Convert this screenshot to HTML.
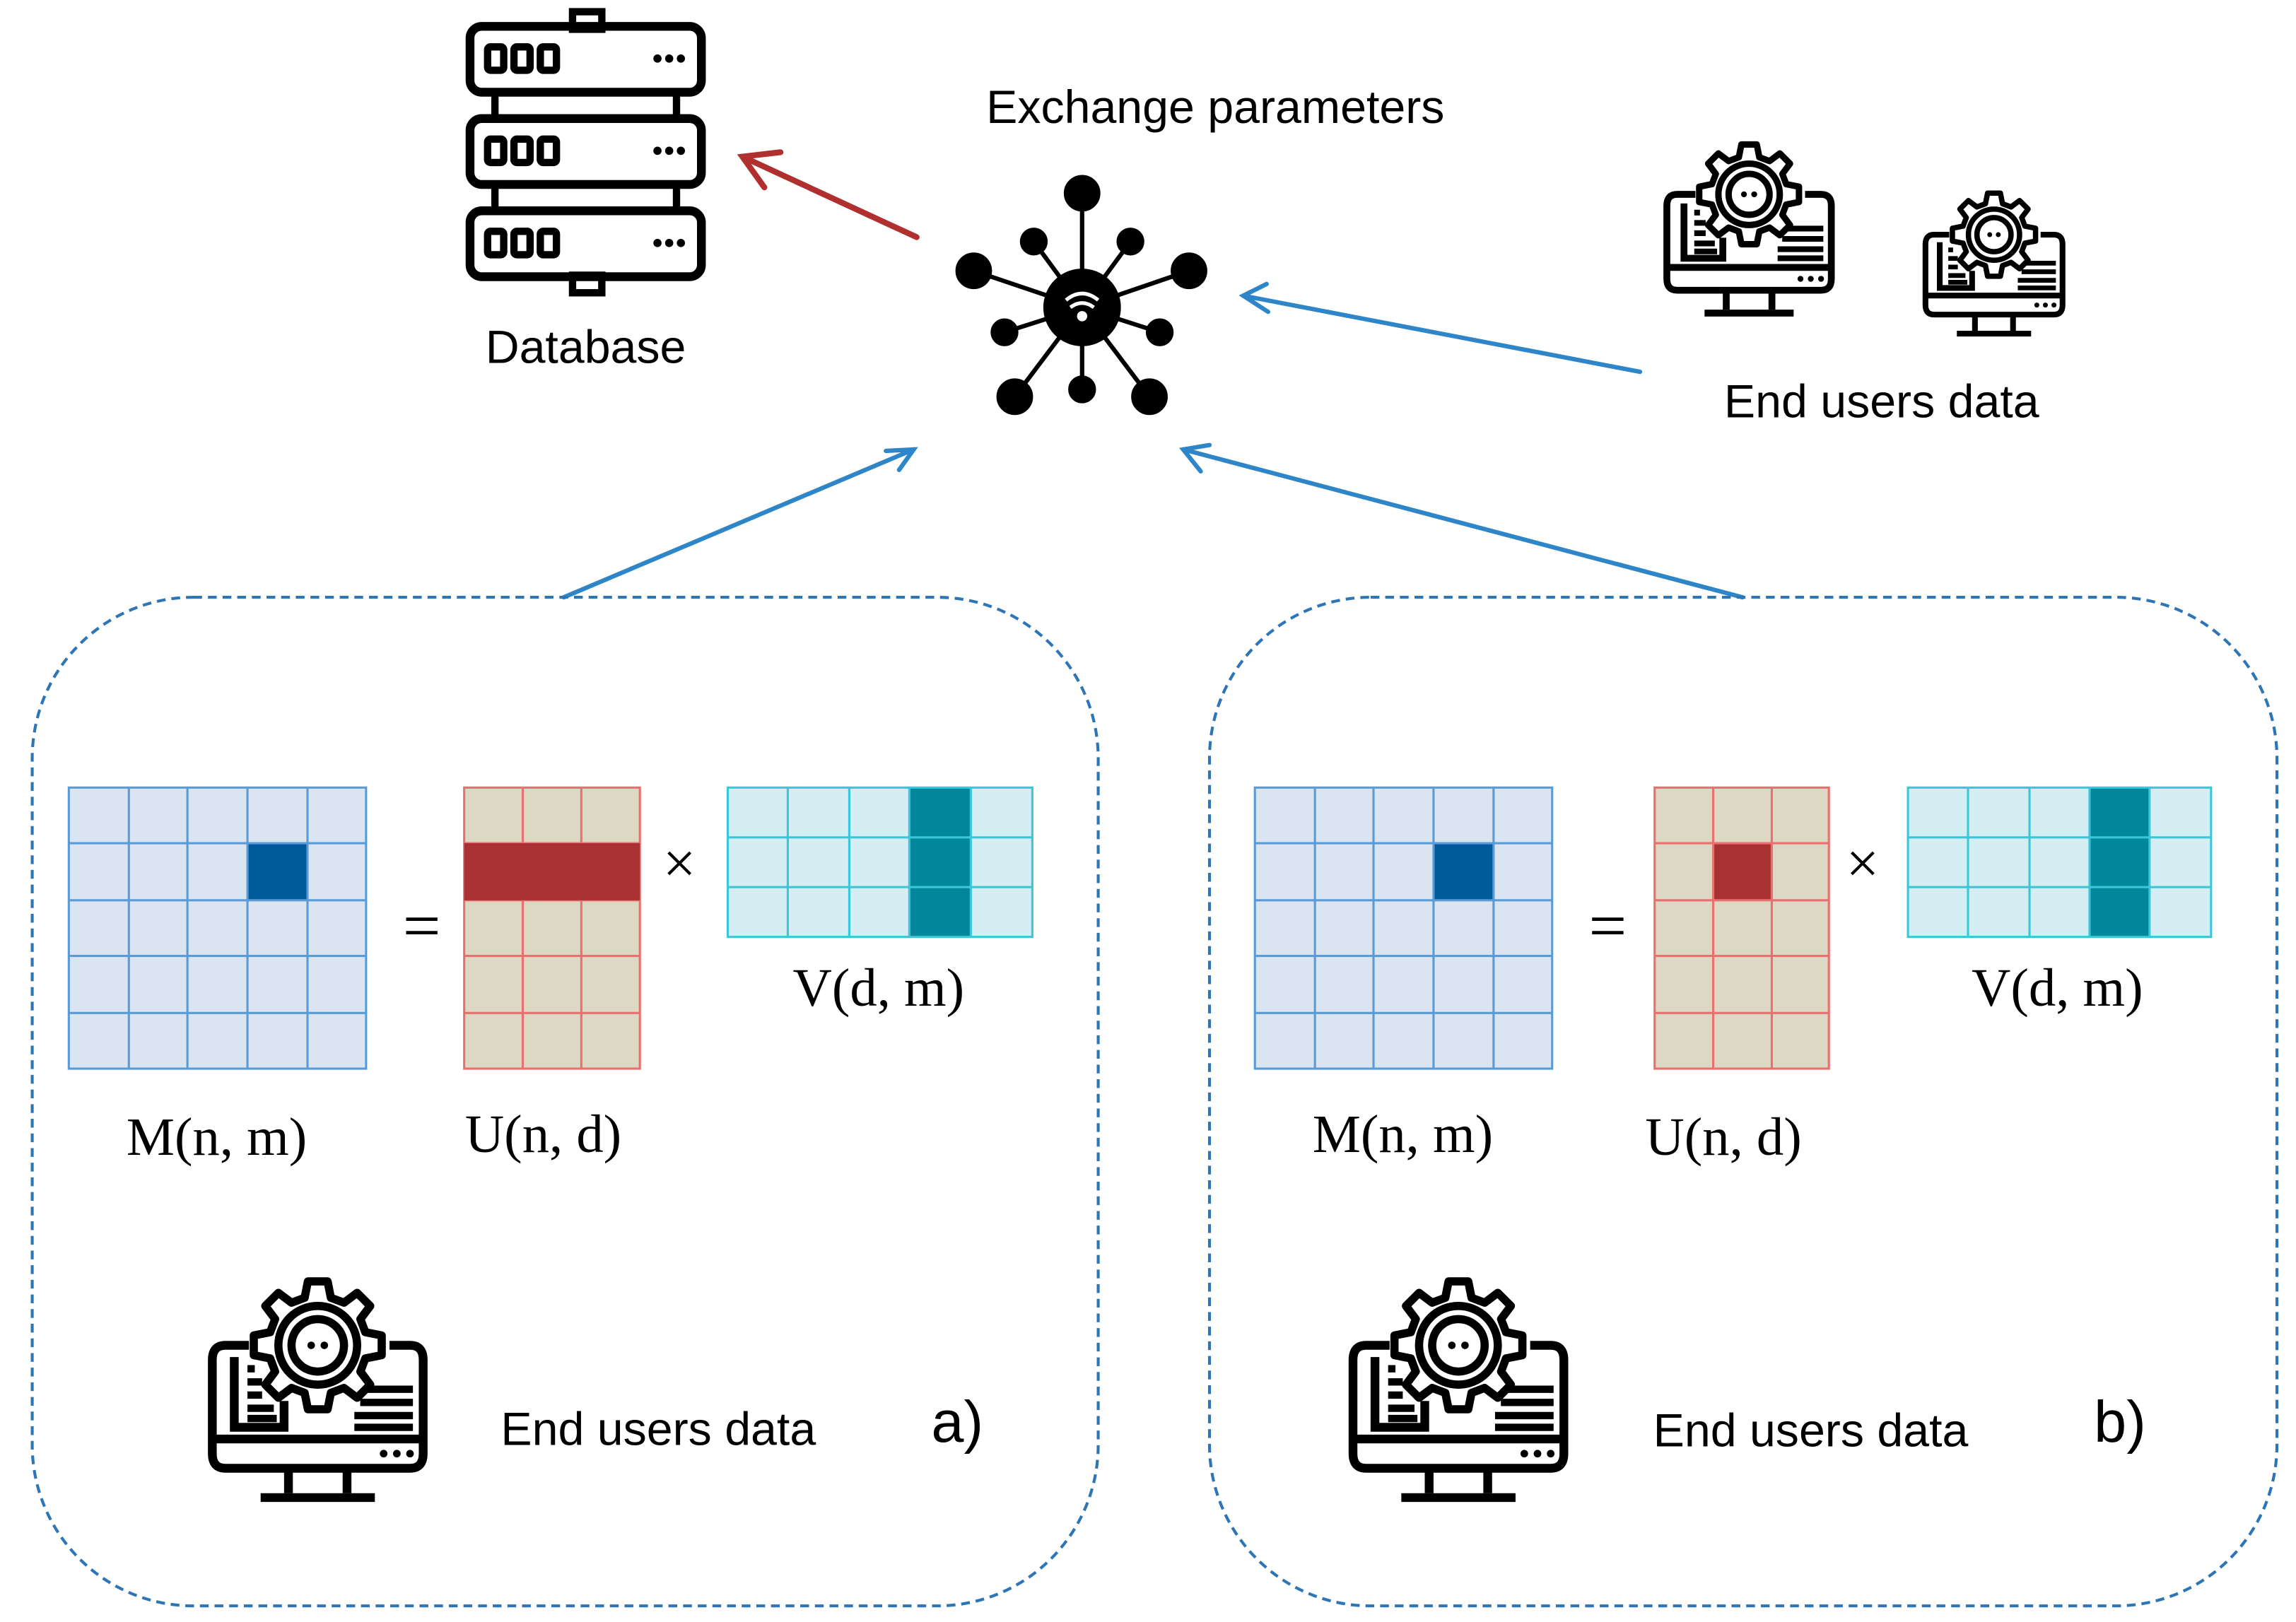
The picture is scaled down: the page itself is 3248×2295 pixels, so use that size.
<!DOCTYPE html>
<html><head><meta charset="utf-8"><style>
html,body{margin:0;padding:0;background:#fff}
svg{display:block}
.lab{font-family:"Liberation Sans",sans-serif;fill:#000}
.ser{font-family:"Liberation Serif",serif;fill:#000}
</style></head><body>
<svg width="3248" height="2295" viewBox="0 0 1568 1108" preserveAspectRatio="none" xmlns="http://www.w3.org/2000/svg">
<defs>
<g id="comp" fill="none" stroke="#000" stroke-width="6" stroke-linecap="butt">
 <path d="M28 42 H12 Q3 42 3 52 V116 Q3 126 12 126 H138 Q147 126 147 116 V52 Q147 42 138 42 H124"/>
 <line x1="3" y1="106" x2="147" y2="106"/>
 <path d="M55 126 V143 M95 126 V143"/>
 <line x1="36" y1="146" x2="114" y2="146" stroke-width="6"/>
 <path d="M18 50 V98 H52 V80"/>
 <path d="M27 58 h5 M27 67 h10 M27 76 h10 M27 85 h18 M27 92 h20" stroke-width="5"/>
 <path d="M108 72 h32 M104 81 h36 M100 90 h40 M100 98 h40" stroke-width="5"/>
 <circle cx="120" cy="116" r="2.6" fill="#000" stroke="none"/><circle cx="129" cy="116" r="2.6" fill="#000" stroke="none"/><circle cx="138" cy="116" r="2.6" fill="#000" stroke="none"/>
 <g transform="translate(75,42) scale(1.12) translate(-75,-42)">
 <path fill="#fff" stroke-width="5" stroke-linejoin="round" d="M69 3 L81 3 L83 13 L91 16 L99 10 L107 18 L101 26 L104 34 L114 36 L114 48 L104 50 L101 58 L107 66 L99 74 L91 68 L83 71 L81 81 L69 81 L67 71 L59 68 L51 74 L43 66 L49 58 L46 50 L36 48 L36 36 L46 34 L49 26 L43 18 L51 10 L59 16 L67 13 Z"/>
 <circle cx="75" cy="42" r="24" stroke-width="5"/>
 <circle cx="75" cy="42" r="16" stroke-width="5"/>
 <circle cx="71" cy="42" r="2.3" fill="#000" stroke="none"/><circle cx="79" cy="42" r="2.3" fill="#000" stroke="none"/>
 </g>
</g>
<g id="srv" fill="none" stroke="#000" stroke-width="6">
 <rect x="3" y="0" width="158" height="45" rx="8"/>
 <rect x="15" y="14" width="11" height="16" rx="2" stroke-width="5"/>
 <rect x="33" y="14" width="11" height="16" rx="2" stroke-width="5"/>
 <rect x="51" y="14" width="11" height="16" rx="2" stroke-width="5"/>
 <circle cx="131" cy="22" r="2.8" fill="#000" stroke="none"/><circle cx="139" cy="22" r="2.8" fill="#000" stroke="none"/><circle cx="147" cy="22" r="2.8" fill="#000" stroke="none"/>
</g>
</defs>

<!-- Database -->
<g transform="translate(318,0)">
 <rect x="73" y="8" width="20" height="12" fill="none" stroke="#000" stroke-width="5"/>
 <rect x="73" y="188" width="20" height="12" fill="none" stroke="#000" stroke-width="5"/>
 <path d="M20 62 V84 M144 62 V84 M20 125 V147 M144 125 V147" stroke="#000" stroke-width="5"/>
 <use href="#srv" transform="translate(0,18)"/>
 <use href="#srv" transform="translate(0,81)"/>
 <use href="#srv" transform="translate(0,144)"/>
</g>
<text class="lab" x="400" y="248" font-size="32" text-anchor="middle">Database</text>
<text class="lab" x="830" y="84" font-size="32" text-anchor="middle">Exchange parameters</text>

<!-- hub -->
<g stroke="#000" stroke-width="3" fill="#000">
 <line x1="739" y1="210" x2="739" y2="132"/><line x1="739" y1="210" x2="706" y2="165"/><line x1="739" y1="210" x2="772" y2="165"/>
 <line x1="739" y1="210" x2="665" y2="185"/><line x1="739" y1="210" x2="812" y2="185"/><line x1="739" y1="210" x2="686" y2="227"/>
 <line x1="739" y1="210" x2="792" y2="227"/><line x1="739" y1="210" x2="693" y2="271"/><line x1="739" y1="210" x2="739" y2="266"/><line x1="739" y1="210" x2="785" y2="271"/>
 <circle cx="739" cy="132" r="11"/><circle cx="706" cy="165" r="8"/><circle cx="772" cy="165" r="8"/>
 <circle cx="665" cy="185" r="11"/><circle cx="812" cy="185" r="11"/><circle cx="686" cy="227" r="8"/><circle cx="792" cy="227" r="8"/>
 <circle cx="693" cy="271" r="11"/><circle cx="739" cy="266" r="8"/><circle cx="785" cy="271" r="11"/>
 <circle cx="739" cy="210" r="25"/>
</g>
<g fill="none" stroke="#fff" stroke-width="2.5">
 <path d="M728 205 Q739 196 750 205"/><path d="M731 210 Q739 204 747 210"/>
</g>
<circle cx="739" cy="216" r="3.5" fill="#fff"/>

<!-- arrows -->
<g fill="none" stroke-width="4" stroke-linecap="round">
 <line x1="626" y1="162" x2="507" y2="107" stroke="#b03030"/>
 <path d="M522 128 L507 107 L533 104" stroke="#b03030"/>
 <g stroke="#2e86c8" stroke-width="3">
  <line x1="1120" y1="254" x2="849" y2="202"/><path d="M866 213 L849 202 L865 194"/>
  <line x1="385" y1="408" x2="624" y2="307"/><path d="M605 308 L624 307 L614 321"/>
  <line x1="1190" y1="408" x2="808" y2="307"/><path d="M820 322 L808 307 L826 304"/>
 </g>
</g>

<!-- top right icons -->
<use href="#comp" transform="translate(1136,100) scale(0.78)"/>
<use href="#comp" transform="translate(1313,133) scale(0.65)"/>
<text class="lab" x="1285" y="285" font-size="32" text-anchor="middle">End users data</text>

<!-- boxes -->
<g fill="none" stroke="#2e75b6" stroke-width="2" stroke-dasharray="6,4">
 <rect x="22" y="408" width="728" height="689" rx="110"/>
 <rect x="826" y="408" width="729" height="689" rx="110"/>
</g>

<!-- left matrices -->
<rect x="47" y="538" width="203" height="192" fill="#dae5f1"/>
<rect x="169" y="576" width="41" height="39" fill="#005a9c"/>
<g stroke="#5b9bd5" stroke-width="1.5" fill="none">
 <rect x="47" y="538" width="203" height="192"/>
 <path d="M88 538V730M128 538V730M169 538V730M210 538V730M47 576H250M47 615H250M47 653H250M47 692H250"/>
</g>
<rect x="317" y="538" width="120" height="192" fill="#ddd8c4"/>
<g stroke="#e87070" stroke-width="1.5" fill="none">
 <rect x="317" y="538" width="120" height="192"/>
 <path d="M357 538V730M397 538V730M317 576H437M317 615H437M317 653H437M317 692H437"/>
</g>
<rect x="317" y="576" width="120" height="39" fill="#a83232"/>
<rect x="497" y="538" width="208" height="102" fill="#d5eef3"/>
<rect x="621" y="538" width="42" height="102" fill="#00879e"/>
<g stroke="#3cc6d9" stroke-width="1.5" fill="none">
 <rect x="497" y="538" width="208" height="102"/>
 <path d="M538 538V640M580 538V640M621 538V640M663 538V640M497 572H705M497 606H705"/>
</g>
<text class="ser" x="288" y="648" font-size="46" text-anchor="middle">=</text>
<text class="ser" x="464" y="603" font-size="40" text-anchor="middle">×</text>
<text class="ser" x="148" y="789" font-size="37" text-anchor="middle">M(n, m)</text>
<text class="ser" x="371" y="787" font-size="37" text-anchor="middle">U(n, d)</text>
<text class="ser" x="600" y="687" font-size="37" text-anchor="middle">V(d, m)</text>
<use href="#comp" transform="translate(142,877)"/>
<text class="lab" x="342" y="987" font-size="32">End users data</text>
<text class="lab" x="636" y="985" font-size="40">a)</text>

<!-- right matrices -->
<rect x="857" y="538" width="203" height="192" fill="#dae5f1"/>
<rect x="979" y="576" width="41" height="39" fill="#005a9c"/>
<g stroke="#5b9bd5" stroke-width="1.5" fill="none">
 <rect x="857" y="538" width="203" height="192"/>
 <path d="M898 538V730M938 538V730M979 538V730M1020 538V730M857 576H1060M857 615H1060M857 653H1060M857 692H1060"/>
</g>
<rect x="1130" y="538" width="119" height="192" fill="#ddd8c4"/>
<rect x="1170" y="576" width="40" height="39" fill="#a83232"/>
<g stroke="#e87070" stroke-width="1.5" fill="none">
 <rect x="1130" y="538" width="119" height="192"/>
 <path d="M1170 538V730M1210 538V730M1130 576H1249M1130 615H1249M1130 653H1249M1130 692H1249"/>
</g>
<rect x="1303" y="538" width="207" height="102" fill="#d5eef3"/>
<rect x="1427" y="538" width="41" height="102" fill="#00879e"/>
<g stroke="#3cc6d9" stroke-width="1.5" fill="none">
 <rect x="1303" y="538" width="207" height="102"/>
 <path d="M1344 538V640M1386 538V640M1427 538V640M1468 538V640M1303 572H1510M1303 606H1510"/>
</g>
<text class="ser" x="1098" y="648" font-size="46" text-anchor="middle">=</text>
<text class="ser" x="1272" y="603" font-size="40" text-anchor="middle">×</text>
<text class="ser" x="958" y="787" font-size="37" text-anchor="middle">M(n, m)</text>
<text class="ser" x="1177" y="789" font-size="37" text-anchor="middle">U(n, d)</text>
<text class="ser" x="1405" y="687" font-size="37" text-anchor="middle">V(d, m)</text>
<use href="#comp" transform="translate(921,877)"/>
<text class="lab" x="1129" y="988" font-size="32">End users data</text>
<text class="lab" x="1430" y="985" font-size="40">b)</text>
</svg>
</body></html>
